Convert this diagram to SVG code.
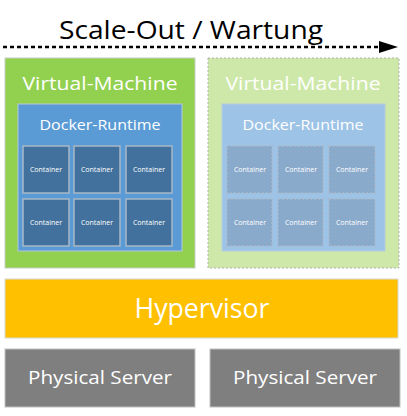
<svg xmlns="http://www.w3.org/2000/svg" width="407" height="416" viewBox="0 0 407 416">
<style>
text{font-family:"Open Sans","Liberation Sans",sans-serif;fill:#fff;text-anchor:middle}
.title{fill:#000;font-size:25px}
.vm{font-size:18px}
.dr{font-size:15px}
.ct{font-size:7px}
.hv{font-size:27px}
.ps{font-size:18px}
.vm1{fill:#92D050;stroke:#C8D0C0;stroke-width:1}
.vm2{fill:#CDE8A9;stroke:#B0B0B0;stroke-width:1;stroke-dasharray:2 2}
.dr1{fill:#5B9BD5;stroke:#B4C8DC;stroke-width:1}
.dr2{fill:#9DC3E6;stroke:#B8CCE0;stroke-width:1}
.c1{fill:#41719C;stroke:#A9B8C8;stroke-width:1.5}
.c2{fill:#8AAACC;stroke:#AAB8C8;stroke-width:1.5;stroke-dasharray:2 2}
.hyp{fill:#FFC000;stroke:#D8D8D8;stroke-width:1}
.srv{fill:#7F7F7F;stroke:#C0C0C0;stroke-width:1}
</style>
<g id="title">
<text class="title" x="191" y="39" textLength="264" lengthAdjust="spacingAndGlyphs">Scale-Out / Wartung</text>
</g>
<g id="connectors">
<line x1="3" y1="47" x2="381" y2="47" stroke="#000" stroke-width="2.5" stroke-dasharray="4 3"/>
<polygon points="379,41 398,47 379,53" fill="#000"/>
</g>
<g id="vm1">
<rect class="vm1" x="5" y="58" width="190" height="210"/>
<text class="vm" x="100" y="90" textLength="155" lengthAdjust="spacingAndGlyphs">Virtual-Machine</text>
</g>
<g id="docker1">
<rect class="dr1" x="18" y="104" width="164" height="147"/>
<text class="dr" x="100" y="130" textLength="121" lengthAdjust="spacingAndGlyphs">Docker-Runtime</text>
</g>
<g id="containers1">
<rect class="c1" x="23" y="146" width="46" height="47"/><text class="ct" x="46" y="172">Container</text>
<rect class="c1" x="74" y="146" width="46" height="47"/><text class="ct" x="97" y="172">Container</text>
<rect class="c1" x="126" y="146" width="46" height="47"/><text class="ct" x="149" y="172">Container</text>
<rect class="c1" x="23" y="199" width="46" height="47"/><text class="ct" x="46" y="225">Container</text>
<rect class="c1" x="74" y="199" width="46" height="47"/><text class="ct" x="97" y="225">Container</text>
<rect class="c1" x="126" y="199" width="46" height="47"/><text class="ct" x="149" y="225">Container</text>
</g>
<g id="vm2">
<rect class="vm2" x="208" y="58" width="191" height="210"/>
<text class="vm" x="303" y="90" textLength="155" lengthAdjust="spacingAndGlyphs">Virtual-Machine</text>
</g>
<g id="docker2">
<rect class="dr2" x="222" y="104" width="163" height="147"/>
<text class="dr" x="303" y="130" textLength="121" lengthAdjust="spacingAndGlyphs">Docker-Runtime</text>
</g>
<g id="containers2">
<rect class="c2" x="227" y="146" width="45" height="47"/><text class="ct" x="250" y="172">Container</text>
<rect class="c2" x="278" y="146" width="45" height="47"/><text class="ct" x="301" y="172">Container</text>
<rect class="c2" x="329" y="146" width="46" height="47"/><text class="ct" x="352" y="172">Container</text>
<rect class="c2" x="227" y="199" width="45" height="47"/><text class="ct" x="250" y="225">Container</text>
<rect class="c2" x="278" y="199" width="45" height="47"/><text class="ct" x="301" y="225">Container</text>
<rect class="c2" x="329" y="199" width="46" height="47"/><text class="ct" x="352" y="225">Container</text>
</g>
<g id="hypervisor">
<rect class="hyp" x="5" y="279" width="393" height="59"/>
<text class="hv" x="202" y="318" textLength="135" lengthAdjust="spacingAndGlyphs">Hypervisor</text>
</g>
<g id="server1">
<rect class="srv" x="5" y="349" width="190" height="58"/>
<text class="ps" x="100" y="384" textLength="144" lengthAdjust="spacingAndGlyphs">Physical Server</text>
</g>
<g id="server2">
<rect class="srv" x="210" y="349" width="190" height="58"/>
<text class="ps" x="305" y="384" textLength="144" lengthAdjust="spacingAndGlyphs">Physical Server</text>
</g>
</svg>
